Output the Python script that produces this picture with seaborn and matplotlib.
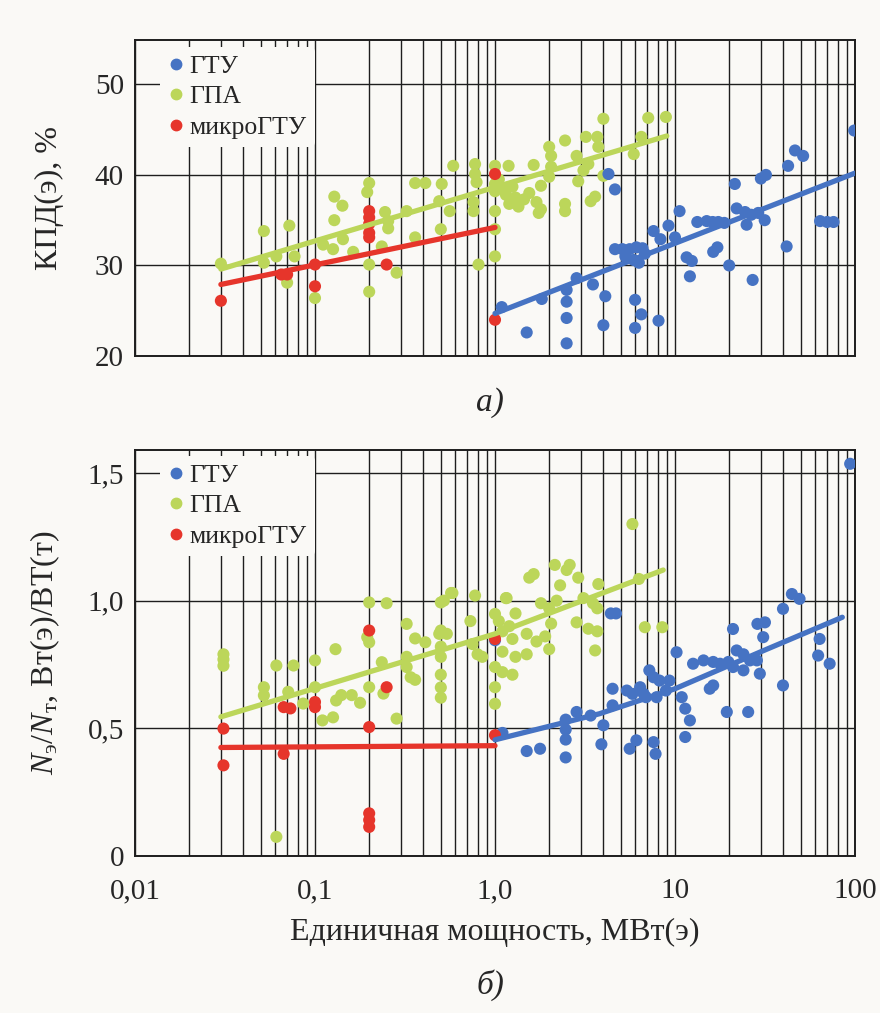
import matplotlib
matplotlib.use("Agg")
import matplotlib.pyplot as plt
from matplotlib.lines import Line2D
import seaborn as sns
import pandas as pd

# ---- data (x: unit power, MW(e)) ----
# panel a) efficiency, %
top_gtu_x = [1.09, 1.5, 1.82, 2.5, 2.5, 2.5, 2.5, 2.84, 3.5, 4.1, 4.0, 4.27, 4.64, 4.64, 5.1, 5.6,
             6.1, 6.6, 5.3, 5.9, 6.3, 6.8, 6.0, 6.0, 6.5, 8.1, 7.6, 8.3, 9.2, 10.0, 10.6, 11.6,
             12.4, 12.1, 13.3, 15.0, 16.2, 17.4, 18.8, 16.3, 17.2, 20.0, 21.5, 22.0, 24.5, 26.5,
             29.0, 31.5, 25.0, 27.0, 30.0, 32.0, 41.7, 42.5, 46.4, 51.5, 64, 70, 76, 99]
top_gtu_y = [25.4, 22.6, 26.3, 27.3, 26.0, 24.2, 21.4, 28.6, 27.9, 26.6, 23.4, 40.1, 38.4, 31.8, 31.8, 31.8,
             32.0, 31.9, 31.0, 30.6, 30.3, 31.3, 26.2, 23.1, 24.6, 23.9, 33.8, 32.9, 34.4, 33.1, 36.0, 30.9,
             30.5, 28.8, 34.8, 34.9, 34.8, 34.8, 34.7, 31.5, 32.0, 30.0, 39.0, 36.3, 35.9, 35.6,
             35.8, 35.0, 34.5, 28.4, 39.6, 40.0, 32.1, 41.0, 42.7, 42.1, 34.9, 34.8, 34.8, 44.9]

top_gpa_x = [0.03, 0.052, 0.061, 0.052, 0.072, 0.077, 0.07, 0.1, 0.111, 0.126, 0.143, 0.128, 0.142,
             0.128, 0.163, 0.2, 0.195, 0.2, 0.2, 0.245, 0.255, 0.255, 0.284, 0.235, 0.323, 0.36,
             0.41, 0.36, 0.506, 0.49, 0.5, 0.586, 0.56, 0.775, 0.775, 0.79, 0.76, 0.76, 0.81, 1.0,
             1.0, 1.0, 1.0, 1.19, 1.05, 1.1, 1.15, 1.25, 1.3, 1.2, 1.35, 1.45, 1.55, 1.64, 1.7, 1.8,
             1.8, 1.75, 2.0, 2.05, 2.05, 2.0, 2.45, 2.84, 2.9, 3.1, 3.3, 3.2, 3.7, 3.75, 4.0, 4.0,
             2.45, 2.45, 3.6, 3.4, 5.9, 6.5, 7.1, 8.9, 1.0, 1.0]
top_gpa_y = [30.2, 33.8, 31.0, 30.3, 34.4, 31.0, 28.1, 26.4, 32.3, 31.8, 32.9, 37.6, 36.6,
             35.0, 31.5, 39.1, 38.1, 30.1, 27.1, 35.9, 34.9, 34.1, 29.2, 32.1, 36.0, 39.1,
             39.1, 33.1, 39.0, 37.1, 34.0, 41.0, 36.0, 41.2, 40.1, 39.2, 37.0, 36.0, 30.1, 41.0,
             36.0, 34.0, 31.0, 41.0, 39.5, 38.5, 37.8, 38.7, 37.5, 36.8, 36.5, 37.3, 38.0, 41.1, 37.0, 38.8,
             36.2, 35.8, 43.1, 42.1, 40.9, 39.8, 43.8, 42.1, 39.3, 40.5, 41.2, 44.2, 44.2, 43.1, 46.2, 39.9,
             36.8, 36.0, 37.6, 37.1, 42.3, 44.2, 46.3, 46.4, 39.0, 38.2]

top_micro_x = [0.03, 0.065, 0.07, 0.1, 0.1, 0.2, 0.2, 0.2, 0.2, 0.2, 0.25, 1.0, 1.0]
top_micro_y = [26.1, 29.0, 29.0, 30.1, 27.7, 36.0, 35.3, 34.6, 33.6, 33.1, 30.1, 40.1, 24.0]

# trend lines, panel a)
top_gtu_fit_x, top_gtu_fit_y = [1.0, 100], [24.7, 40.2]
top_gpa_fit_x, top_gpa_fit_y = [0.03, 9.0], [29.6, 44.3]
top_micro_fit_x, top_micro_fit_y = [0.03, 1.0], [27.9, 34.2]

# panel б) power ratio
bot_gtu_x = [1.0, 1.1, 1.5, 1.78, 2.47, 2.47, 2.47, 2.47, 2.84, 3.4, 4.0, 3.9, 4.5, 4.5, 4.4, 4.7,
             5.4, 5.8, 6.4, 6.7, 7.2, 7.6, 8.2, 9.3, 8.9, 7.9, 6.9, 5.6, 6.1, 7.6, 7.8,
             10.2, 10.9, 11.4, 12.1, 11.4, 12.6, 14.4, 16.3, 17.8, 19.8, 22, 24, 26.1, 28.5,
             21, 24, 29.6, 15.6, 16.3, 19.4, 25.5, 21, 28.7, 31.6, 30.9, 39.8, 44.6, 49.2,
             39.8, 63.6, 62.4, 72.3, 94]
bot_gtu_y = [0.845, 0.482, 0.411, 0.42, 0.534, 0.495, 0.456, 0.386, 0.564, 0.55, 0.512, 0.4375, 0.655, 0.59, 0.95, 0.95,
             0.648, 0.635, 0.661, 0.635, 0.727, 0.70, 0.687, 0.687, 0.648, 0.622, 0.622, 0.42, 0.453, 0.446, 0.40,
             0.798, 0.622, 0.577, 0.531, 0.466, 0.753, 0.766, 0.76, 0.753, 0.76, 0.805, 0.79, 0.766, 0.766,
             0.74, 0.727, 0.714, 0.655, 0.668, 0.564, 0.564, 0.889, 0.909, 0.915, 0.857, 0.968, 1.026, 1.007,
             0.668, 0.85, 0.785, 0.753, 1.536]

bot_gpa_x = [0.031, 0.031, 0.031, 0.052, 0.052, 0.061, 0.061, 0.076, 0.071, 0.086, 0.1, 0.1, 0.11,
             0.126, 0.13, 0.131, 0.14, 0.16, 0.178, 0.2, 0.25, 0.195, 0.2, 0.2, 0.235, 0.24, 0.284,
             0.323, 0.36, 0.41, 0.323, 0.323, 0.34, 0.36, 0.5, 0.58, 0.5, 0.5, 0.5, 0.5, 0.5, 0.5,
             0.775, 0.73, 1.0, 1.0, 1.0, 1.15, 1.05, 1.1, 1.2, 1.25, 1.1, 1.3, 1.0, 1.1, 1.25,
             0.75, 0.8, 0.85, 0.52, 0.57, 0.49, 0.54, 1.64, 1.55, 2.15, 2.5, 2.3, 2.6, 2.9, 3.75,
             6.3, 5.8, 1.16, 1.8, 2.0, 2.2, 3.1, 3.5, 3.7, 2.84, 3.3, 3.7, 3.6, 6.8, 8.5, 1.5,
             1.7, 1.9, 2.0, 2.05, 1.5, 1.3]
bot_gpa_y = [0.79, 0.77, 0.745, 0.661, 0.629, 0.746, 0.075, 0.746, 0.643, 0.597, 0.766, 0.661, 0.531,
             0.543, 0.81, 0.609, 0.63, 0.63, 0.60, 0.993, 0.99, 0.857, 0.837, 0.661, 0.759, 0.636, 0.538,
             0.909, 0.852, 0.837, 0.78, 0.74, 0.70, 0.69, 0.993, 1.03, 0.883, 0.82, 0.78, 0.71, 0.66, 0.62,
             1.02, 0.92, 0.948, 0.661, 0.596, 1.01, 0.92, 0.88, 0.90, 0.85, 0.80, 0.78, 0.74, 0.72, 0.71,
             0.83, 0.79, 0.78, 1.0, 1.03, 0.87, 0.87, 1.104, 1.09, 1.14, 1.12, 1.06, 1.14, 1.09, 1.065,
             1.085, 1.30, 1.01, 0.99, 0.97, 1.0, 1.01, 0.99, 0.97, 0.915, 0.89, 0.88, 0.805, 0.896, 0.896, 0.87,
             0.84, 0.86, 0.81, 0.91, 0.79, 0.95]

bot_micro_x = [0.031, 0.031, 0.067, 0.073, 0.067, 0.1, 0.1, 0.2, 0.2, 0.2, 0.2, 0.2, 0.25, 1.0, 1.0]
bot_micro_y = [0.499, 0.355, 0.583, 0.578, 0.40, 0.603, 0.583, 0.883, 0.505, 0.167, 0.141, 0.114, 0.661, 0.85, 0.473]

bot_gtu_fit_x, bot_gtu_fit_y = [1.0, 3.8, 10, 30, 85], [0.455, 0.557, 0.655, 0.80, 0.935]
bot_gpa_fit_x, bot_gpa_fit_y = [0.03, 1.0, 8.6], [0.545, 0.87, 1.12]
bot_micro_fit_x, bot_micro_fit_y = [0.03, 1.0], [0.425, 0.432]

labels = ["ГТУ", "ГПА", "микроГТУ"]
colors = {"ГТУ": "#4673c3", "ГПА": "#bcd65a", "микроГТУ": "#e6352b"}
xticks = [0.01, 0.1, 1, 10, 100]
xticklabels = ["0,01", "0,1", "1,0", "10", "100"]

bg = "#faf9f6"
sns.set_style("white")
plt.rcParams["font.family"] = ["Liberation Serif", "DejaVu Serif"]
plt.rcParams["mathtext.fontset"] = "custom"
plt.rcParams["mathtext.rm"] = "Liberation Serif"
plt.rcParams["mathtext.it"] = "Liberation Serif:italic"


def make_frame(gtu_x, gtu_y, gpa_x, gpa_y, mic_x, mic_y):
    ''' one long table, green first so red and blue sit on top '''
    parts = [pd.DataFrame({"x": gpa_x, "y": gpa_y, "type": "ГПА"}),
             pd.DataFrame({"x": gtu_x, "y": gtu_y, "type": "ГТУ"}),
             pd.DataFrame({"x": mic_x, "y": mic_y, "type": "микроГТУ"})]
    return pd.concat(parts, ignore_index=True)


def draw_panel(ax, df, fits, ylim, yticks, yticklabels, leg_top):
    sns.scatterplot(data=df, x="x", y="y", hue="type", palette=colors, s=76,
                    linewidth=0, legend=False, ax=ax, zorder=3)
    for name, fx, fy in fits:
        sns.lineplot(x=fx, y=fy, color=colors[name], lw=3.8, ax=ax,
                     estimator=None, sort=False, zorder=4)
    ax.set_xscale("log")
    ax.set_xlim(0.01, 100)
    ax.set_ylim(*ylim)
    ax.set_yticks(yticks)
    ax.set_yticklabels(yticklabels)
    ax.set_facecolor(bg)
    ax.set_axisbelow(True)
    ax.grid(True, which="both", axis="x", color="#1e1e1e", lw=1.0)
    ax.grid(True, which="major", axis="y", color="#1e1e1e", lw=1.0)
    ax.tick_params(which="both", length=0, labelsize=21, pad=8)
    for sp in ax.spines.values():
        sp.set_color("#1e1e1e")
        sp.set_linewidth(1.4)
    handles = [Line2D([], [], marker="o", ls="", color=colors[k], markersize=7.5) for k in labels]
    leg = ax.legend(handles, labels, loc="upper left", bbox_to_anchor=(0.035, leg_top),
                    frameon=True, facecolor=bg, edgecolor="none", framealpha=1,
                    fontsize=18.5, handlelength=0.6, handletextpad=0.25,
                    borderpad=0.3, labelspacing=0.3, borderaxespad=0)
    leg.set_zorder(5)
    ax.set_xlabel("")
    ax.set_ylabel("")


fig = plt.figure(figsize=(8.8, 10.13), dpi=100)
fig.patch.set_facecolor(bg)
ax1 = fig.add_axes([135 / 880, 1 - 356 / 1013, 720 / 880, 316 / 1013])
ax2 = fig.add_axes([135 / 880, 1 - 856 / 1013, 720 / 880, 406 / 1013])

df_top = make_frame(top_gtu_x, top_gtu_y, top_gpa_x, top_gpa_y, top_micro_x, top_micro_y)
draw_panel(ax1, df_top,
           [("ГПА", top_gpa_fit_x, top_gpa_fit_y), ("микроГТУ", top_micro_fit_x, top_micro_fit_y),
            ("ГТУ", top_gtu_fit_x, top_gtu_fit_y)],
           (20, 54.9), [20, 30, 40, 50], ["20", "30", "40", "50"], 0.978)
ax1.set_xticks(xticks)
ax1.set_xticklabels([])
ax1.set_ylabel("КПД(э), %", fontsize=23, labelpad=22)

df_bot = make_frame(bot_gtu_x, bot_gtu_y, bot_gpa_x, bot_gpa_y, bot_micro_x, bot_micro_y)
draw_panel(ax2, df_bot,
           [("ГПА", bot_gpa_fit_x, bot_gpa_fit_y), ("микроГТУ", bot_micro_fit_x, bot_micro_fit_y),
            ("ГТУ", bot_gtu_fit_x, bot_gtu_fit_y)],
           (0, 1.59), [0, 0.5, 1.0, 1.5], ["0", "0,5", "1,0", "1,5"], 0.985)
ax2.set_xticks(xticks)
ax2.set_xticklabels(xticklabels)
ax2.tick_params(axis="x", pad=16)
ax2.set_ylabel(r"$N_{\mathrm{э}}/N_{\mathrm{т}}$, Вт(э)/ВТ(т)", fontsize=23, labelpad=18)
ax2.set_xlabel("Единичная мощность, МВт(э)", fontsize=23, labelpad=10)

fig.text(490 / 880, 1 - 403 / 1013, "а)", fontsize=24, style="italic", ha="center", va="center")
fig.text(490 / 880, 1 - 985 / 1013, "б)", fontsize=24, style="italic", ha="center", va="center")

fig.savefig("out.png", dpi=100, facecolor=bg)
